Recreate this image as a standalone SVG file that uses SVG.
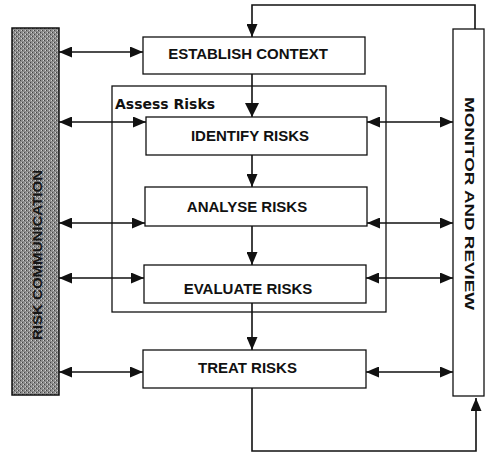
<svg xmlns="http://www.w3.org/2000/svg" width="501" height="454" viewBox="0 0 501 454">
<style>
.box{fill:#fff;stroke:#111;stroke-width:1.3}
.lbl{font-family:"Liberation Sans",Arial,sans-serif;font-weight:bold;font-size:15px;fill:#111;text-anchor:middle}
.con{fill:none;stroke:#111;stroke-width:1.6}
.dbl{marker-start:url(#ah);marker-end:url(#ah)}
.one{marker-end:url(#ah)}
</style>
<defs>
<marker id="ah" viewBox="0 0 13 11" refX="13" refY="5.5" markerWidth="13" markerHeight="11" markerUnits="userSpaceOnUse" orient="auto-start-reverse">
<path d="M0,0 L13,5.5 L0,11 Z" fill="#111"/>
</marker>
<marker id="ahb" viewBox="0 0 14 14" refX="14" refY="7" markerWidth="14" markerHeight="14" markerUnits="userSpaceOnUse" orient="auto">
<path d="M0,0 L14,7 L0,14 Z" fill="#111"/>
</marker>
<pattern id="dither" width="4" height="4" patternUnits="userSpaceOnUse">
<rect width="4" height="4" fill="#8c8c8c"/>
<rect x="0" y="0" width="1" height="1" fill="#444"/>
<rect x="2" y="2" width="1" height="1" fill="#444"/>
<rect x="1" y="2" width="1" height="1" fill="#d0d0d0"/>
<rect x="3" y="0" width="1" height="1" fill="#d0d0d0"/>
</pattern>
</defs>

<g id="connectors">
<path class="con one" d="M475,29 V5 H252 V37"/>
<path class="con" d="M252,74 V117" marker-end="url(#ahb)"/>
<path class="con one" d="M252,155 V187"/>
<path class="con one" d="M252,226 V265"/>
<path class="con one" d="M252,303 V350"/>
<path class="con one" d="M252,388 V451 H476 V398"/>
<path class="con dbl" d="M59,52 H143"/>
<path class="con dbl" d="M59,122 H146"/>
<path class="con dbl" d="M59,223 H145"/>
<path class="con dbl" d="M59,278 H144"/>
<path class="con dbl" d="M59,372 H143"/>
<path class="con dbl" d="M367,122 H453"/>
<path class="con dbl" d="M367,223 H453"/>
<path class="con dbl" d="M366,278 H453"/>
<path class="con dbl" d="M366,372 H453"/>
</g>

<g id="risk-communication">
<rect x="12" y="28" width="47" height="367" fill="url(#dither)" stroke="#111" stroke-width="1.5"/>
<text transform="translate(42,255) rotate(-90)" class="lbl" style="font-size:12px;fill:#151515" textLength="170" lengthAdjust="spacingAndGlyphs">RISK COMMUNICATION</text>
</g>

<g id="monitor-review">
<rect class="box" x="453" y="29" width="31" height="367"/>
<text transform="translate(465,203.5) rotate(90)" class="lbl" style="font-size:12.5px" textLength="213" lengthAdjust="spacingAndGlyphs">MONITOR AND REVIEW</text>
</g>

<g id="establish-context">
<rect class="box" x="143" y="37" width="222" height="37"/>
<text class="lbl" x="248" y="59">ESTABLISH CONTEXT</text>
</g>

<g id="assess-risks">
<rect x="112" y="86" width="274" height="226" fill="none" stroke="#111" stroke-width="1.3"/>
<text x="115" y="109" style="font-family:Verdana,'DejaVu Sans',sans-serif;font-weight:bold;font-size:14px;fill:#111">Assess Risks</text>
</g>

<g id="identify-risks">
<rect class="box" x="146" y="117" width="221" height="38"/>
<text class="lbl" x="250" y="141">IDENTIFY RISKS</text>
</g>

<g id="analyse-risks">
<rect class="box" x="145" y="187" width="222" height="39"/>
<text class="lbl" x="247" y="212">ANALYSE RISKS</text>
</g>

<g id="evaluate-risks">
<rect class="box" x="144" y="265" width="222" height="38"/>
<text class="lbl" x="248" y="294">EVALUATE RISKS</text>
</g>

<g id="treat-risks">
<rect class="box" x="143" y="350" width="223" height="38"/>
<text class="lbl" x="247.5" y="373">TREAT RISKS</text>
</g>
</svg>
